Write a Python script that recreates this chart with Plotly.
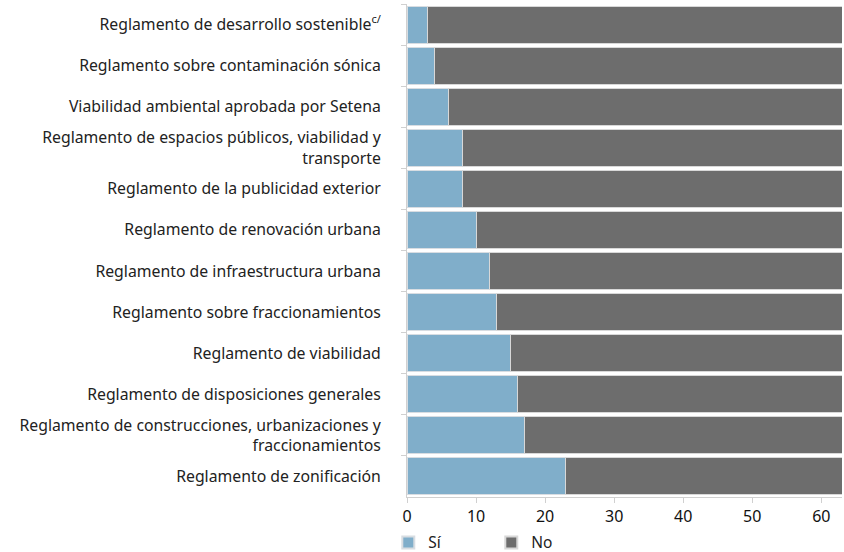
import plotly.graph_objects as go

categorias = [
    "Reglamento de desarrollo sostenible<sup>c/</sup>",
    "Reglamento sobre contaminación sónica",
    "Viabilidad ambiental aprobada por Setena",
    "Reglamento de espacios públicos, viabilidad y<br>transporte",
    "Reglamento de la publicidad exterior",
    "Reglamento de renovación urbana",
    "Reglamento de infraestructura urbana",
    "Reglamento sobre fraccionamientos",
    "Reglamento de viabilidad",
    "Reglamento de disposiciones generales",
    "Reglamento de construcciones, urbanizaciones y<br>fraccionamientos",
    "Reglamento de zonificación",
]
si = [3, 4, 6, 8, 8, 10, 12, 13, 15, 16, 17, 23]
no = [60, 59, 57, 55, 55, 53, 51, 50, 48, 47, 46, 40]

fig = go.Figure()
fig.add_trace(go.Bar(y=categorias, x=si, name="Sí", orientation="h",
                     marker=dict(color="#80aeca", line=dict(color="#d8dde2", width=1))))
fig.add_trace(go.Bar(y=categorias, x=no, name="No", orientation="h",
                     marker=dict(color="#6d6d6d", line=dict(color="#d8d8d8", width=1))))

fig.update_layout(
    barmode="stack",
    bargap=0.1,
    width=844, height=552,
    margin=dict(l=407, r=2, t=4, b=55, autoexpand=False),
    plot_bgcolor="white", paper_bgcolor="white",
    font=dict(family="'Noto Sans', sans-serif", size=15, color="#222222"),
    legend=dict(orientation="h", x=-0.043, xanchor="left", y=-0.093, yanchor="middle",
                bgcolor="rgba(0,0,0,0)",
                font=dict(size=15.5), traceorder="normal",
                entrywidth=58, entrywidthmode="pixels",
                tracegroupgap=0, itemsizing="constant"),
    showlegend=True,
)
fig.update_xaxes(range=[0, 63], tickvals=[0, 10, 20, 30, 40, 50, 60],
                 showgrid=False, zeroline=False, showline=True, linecolor="#d0d0d0",
                 ticks="outside", tickcolor="#d0d0d0", ticklen=5,
                 tickfont=dict(size=16, color="#111111"))
fig.update_yaxes(autorange="reversed", showgrid=False, showline=True, linecolor="#d0d0d0",
                 ticks="outside", tickson="boundaries", tickcolor="#d0d0d0", ticklen=5,
                 ticklabelstandoff=22,
                 tickfont=dict(size=15.8, color="#222222"))

fig.write_html("out.html")
